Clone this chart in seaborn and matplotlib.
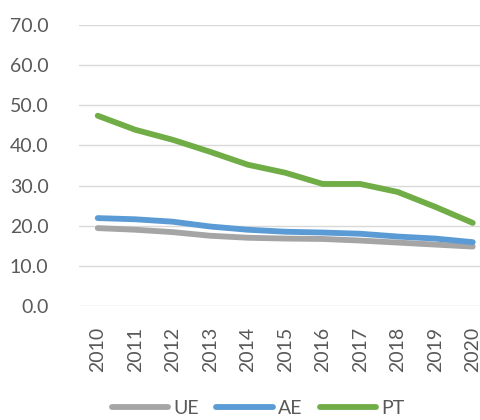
import matplotlib.pyplot as plt
import numpy as np
import pandas as pd
import seaborn as sns

years = [str(y) for y in range(2010, 2021)]
ue = [19.4, 19.0, 18.4, 17.5, 17.0, 16.8, 16.7, 16.3, 15.8, 15.3, 14.8]
ae = [21.9, 21.6, 21.0, 19.8, 19.0, 18.5, 18.3, 18.0, 17.3, 16.8, 15.9]
pt = [47.4, 43.9, 41.4, 38.4, 35.2, 33.2, 30.4, 30.4, 28.4, 24.7, 20.7]
series = ['UE', 'AE', 'PT']
colors = ['#A5A5A5', '#5B9BD5', '#70AD47']

df = pd.DataFrame({'year': years * 3,
                   'value': ue + ae + pt,
                   'serie': np.repeat(series, len(years))})

sns.set_style('white')
plt.rcParams['font.family'] = ['Lato', 'DejaVu Sans']
text_color = '#595959'
fs = 14

fig = plt.figure(figsize=(4.81, 4.2), dpi=100)
ax = fig.add_axes([79 / 481, 114 / 420, 412.5 / 481, 281 / 420])

sns.lineplot(data=df, x='year', y='value', hue='serie', palette=colors,
             linewidth=4.2, sort=False, ax=ax, legend=False)
for line in ax.lines:
    line.set_solid_capstyle('round')
    line.set_solid_joinstyle('round')

ax.set_ylim(0, 70)
ax.set_xlim(-0.5, 10.5)
ax.set_yticks(np.arange(0, 71, 10))
ax.set_yticklabels([f'{v:.1f}' for v in np.arange(0, 71, 10)])
ax.tick_params(axis='y', length=0, pad=22, labelsize=fs, labelcolor=text_color)
ax.tick_params(axis='x', length=0, pad=15, labelsize=fs, labelcolor=text_color,
               rotation=90)
ax.grid(axis='y', color='#D9D9D9', linewidth=1)
ax.set_axisbelow(True)
for s in ax.spines.values():
    s.set_visible(False)
ax.set_xlabel('')
ax.set_ylabel('')

handles = [plt.Line2D([], [], color=c, linewidth=4.2, solid_capstyle='round')
           for c in colors]
fig.legend(handles, series, loc='center', bbox_to_anchor=(258 / 481, 1 - 408 / 420),
           ncol=3, frameon=False, handlelength=2.9, handletextpad=0.25,
           columnspacing=0.9, fontsize=fs, labelcolor=text_color,
           borderpad=0, borderaxespad=0)

fig.savefig('out.png', dpi=100)
